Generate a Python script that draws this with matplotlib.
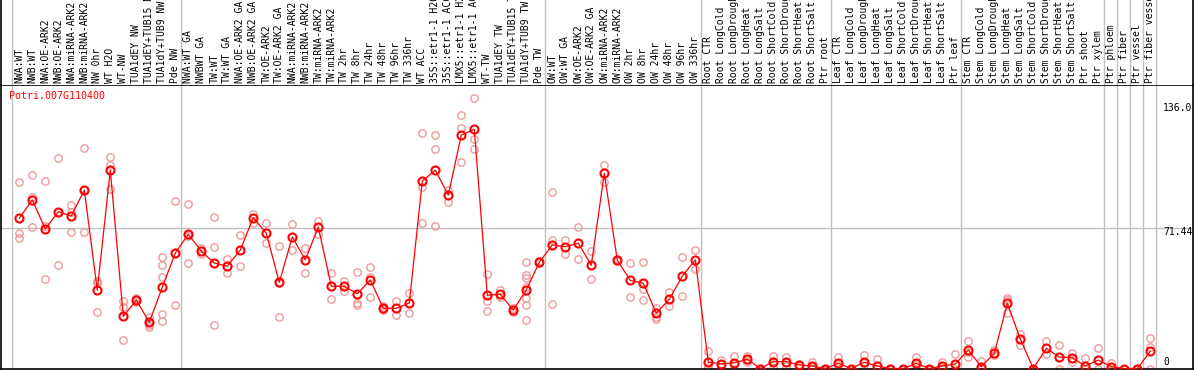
import numpy as np
import matplotlib
matplotlib.use('Agg')
from matplotlib import pyplot as plt


gene = 'Potri.007G110400'

samples = ['NWA:WT', 'NWB:WT', 'NWA:OE-ARK2', 'NWB:OE-ARK2', 'NWA:miRNA-ARK2', 'NWB:miRNA-ARK2',
           'NW 0hr', 'WT H2O', 'WT-NW', 'TUA1dEY NW', 'TUA1dEY+TUB15 NW', 'TUA1dY+TUB9 NW', 'Pde NW',
           'NWA:WT GA', 'NWBWT GA', 'TW:WT', 'TW:WT GA', 'NWA:OE-ARK2 GA', 'NWB:OE-ARK2 GA',
           'TW:OE-ARK2', 'TW:OE-ARK2 GA', 'NWA:miRNA-ARK2', 'NWB:miRNA-ARK2', 'TW:miRNA-ARK2',
           'TW:miRNA-ARK2', 'TW 2hr', 'TW 8hr', 'TW 24hr', 'TW 48hr', 'TW 96hr', 'TW 336hr', 'WT ACC',
           '35S::etr1-1 H2O', '35S::etr1-1 ACC', 'LMX5::etr1-1 H2O', 'LMX5::etr1-1 ACC', 'WT-TW',
           'TUA1dEY TW', 'TUA1dEY+TUB15 TW', 'TUA1dY+TUB9 TW', 'Pde TW',
           'OW:WT', 'OW:WT GA', 'OW:OE-ARK2', 'OW:OE-ARK2 GA', 'OW:miRNA-ARK2', 'OW:miRNA-ARK2',
           'OW 2hr', 'OW 8hr', 'OW 24hr', 'OW 48hr', 'OW 96hr', 'OW 336hr',
           'Root CTR', 'Root LongCold', 'Root LongDrought', 'Root LongHeat', 'Root LongSalt',
           'Root ShortCold', 'Root ShortDrought', 'Root ShortHeat', 'Root ShortSalt', 'Ptr root',
           'Leaf CTR', 'Leaf LongCold', 'Leaf LongDrought', 'Leaf LongHeat', 'Leaf LongSalt',
           'Leaf ShortCold', 'Leaf ShortDrought', 'Leaf ShortHeat', 'Leaf ShortSalt', 'Ptr leaf',
           'Stem CTR', 'Stem LongCold', 'Stem LongDrought', 'Stem LongHeat', 'Stem LongSalt',
           'Stem ShortCold', 'Stem ShortDrought', 'Stem ShortHeat', 'Stem ShortSalt', 'Ptr shoot',
           'Ptr xylem', 'Ptr phloem', 'Ptr fiber', 'Ptr vessel', 'Ptr fiber vessel']

# first sample of each block (separator lines drawn before them), last entry = end
group_starts = [0, 13, 41, 53, 63, 73, 84, 85, 86, 87, 88]

means = [76.4, 85.7, 70.9, 79.7, 77.5, 90.7, 39.8, 100.8, 26.5, 34.8,
         23.5, 41.3, 58.7, 68.2, 59.6, 53.6, 52.0, 60.2, 76.7, 68.7,
         43.8, 66.9, 55.2, 71.9, 41.8, 41.8, 38.0, 45.0, 30.6, 30.6,
         33.3, 95.3, 100.8, 88.2, 118.6, 121.6, 37.2, 37.7, 29.7, 39.9,
         54.0, 62.8, 61.9, 63.7, 52.5, 99.2, 55.0, 44.8, 43.3, 28.1,
         35.2, 47.0, 55.2, 3.2, 2.4, 2.9, 4.7, 0.0, 3.5, 3.5,
         1.8, 1.3, 0.0, 2.6, 0.0, 3.2, 1.3, 0.0, 0.0, 2.6,
         0.0, 1.3, 2.3, 9.4, 0.9, 7.7, 33.1, 15.0, 0.0, 10.3,
         5.8, 5.5, 1.3, 4.3, 0.9, 0.0, 0.0, 8.7]

replicates = [[94.7, 68.7, 66.2], [98.2, 87.3, 71.8], [95.3, 72.4, 45.3], [106.9, 79.7, 52.5],
              [83.1, 79.7, 69.2], [111.9, 90.7, 69.5], [44.5, 43.3, 28.7], [107.4, 103.5, 91.1],
              [34.3, 31.1, 14.5], [35.6, 34.8, 34.0], [26.3, 22.1, 21.1],
              [56.8, 52.5, 46.5, 27.7, 24.0], [85.2, 58.6, 32.3],
              [83.5, 67.5, 53.6], [61.0, 58.2], [77.0, 61.8, 22.0], [55.7, 48.6], [67.9, 52.0],
              [78.4, 74.1], [73.8, 63.7], [62.1, 43.3, 26.0], [73.3, 60.1], [61.3, 48.6],
              [75.0, 68.2], [48.6, 35.2], [44.6, 39.6], [49.1, 33.1, 32.3], [51.8, 46.7, 36.2],
              [31.8, 30.4, 29.6], [34.3, 27.0], [38.4, 28.1], [119.6, 92.4, 73.8],
              [118.7, 111.4, 72.3], [90.7, 84.8], [128.9, 122.1, 105.0], [137.4, 116.5, 111.4],
              [48.0, 34.5, 29.2], [39.9, 36.5], [30.6, 28.9],
              [54.3, 47.5, 45.9, 41.4, 35.8, 32.3, 24.7], [54.5, 53.5],
              [89.6, 65.3, 32.6], [65.3, 58.4], [71.8, 55.5], [59.6, 45.3], [103.5, 95.0],
              [55.5, 54.5], [53.6, 36.2], [54.0, 40.6, 34.7], [30.6, 26.3, 25.3], [38.9, 31.6],
              [56.5, 36.9], [60.2, 50.4],
              [8.9, 0.6, 0.0], [4.2, 2.3, 0.8], [6.4, 2.3, 0.0], [6.4, 4.5, 3.3], [0.0, 0.0],
              [6.4, 3.8, 0.3], [6.0, 3.2, 1.3], [2.5, 1.9, 1.0], [3.2, 0.7, 0.0], [0.0, 0.0],
              [6.0, 1.8, 0.0], [0.0, 0.0], [6.9, 2.7, 0.0], [5.0, 0.0], [0.0, 0.0],
              [0.0, 0.0], [5.8, 2.0, 0.0], [0.0, 0.0], [3.3, 0.6, 0.0], [7.2, 0.0],
              [14.0, 8.2, 6.0], [3.8, 0.0], [9.4, 6.9], [36.0, 34.8, 28.4], [17.4, 11.9],
              [0.0, 0.0], [14.1, 7.2], [11.8, 0.0], [7.7, 3.2], [5.2, 0.0], [10.3, 0.0],
              [2.9, 0.0], [0.0, 0.0], [0.0, 0.0], [15.4, 11.1, 0.0]]

y_max = 136.0
y_mid = 71.44

W, H = 1194, 370
mono = 'DejaVu Sans Mono'
red = '#ff0000'
pink = '#ee9a9a'
grey = '#c0c0c0'

fig = plt.figure(figsize=(W / 100., H / 100.), dpi=100)

# pixel layout of the image
left_px, right_px = 1, 1192.5
top_px, bottom_px = 85, 369
x0_px, step_px = 19.3, 13.0
xlim = ((left_px - x0_px) / step_px, (right_px - x0_px) / step_px)

ax = fig.add_axes([left_px / W, (H - bottom_px) / H, (right_px - left_px) / W, (bottom_px - top_px) / H])
hax = fig.add_axes([left_px / W, (H - top_px) / H, (right_px - left_px) / W, top_px / H])

x = np.arange(len(samples))

# replicates first, then the mean line on top
for i, reps in enumerate(replicates):
    ax.plot([x[i]] * len(reps), reps, linestyle='none', marker='o', markersize=5.3,
            markerfacecolor='none', markeredgecolor=pink, markeredgewidth=1.0, zorder=2)
ax.plot(x, means, color=red, linewidth=0.9, marker='o', markersize=5.8,
        markerfacecolor='none', markeredgecolor=red, markeredgewidth=1.5, zorder=3)

ax.set_xlim(*xlim)
ax.set_ylim(-0.25, 144.1)
ax.axhline(y_mid, color=grey, linewidth=1, zorder=1)
for a in (ax, hax):
    for g in group_starts:
        a.axvline(g - 0.6, color=grey, linewidth=1, zorder=1)
    a.set_xticks([])
    a.set_yticks([])
    for s in a.spines.values():
        s.set_color('black')
        s.set_linewidth(1.2)
hax.set_xlim(*xlim)
hax.set_ylim(0, 1)
hax.spines['top'].set_visible(False)
hax.spines['bottom'].set_visible(False)

for i, name in enumerate(samples):
    hax.text(x[i], 2. / top_px, name, rotation=90, ha='center', va='bottom',
             family=mono, fontsize=7, color='black')

ax.text(8. / W, 0.961, gene, transform=ax.transAxes, ha='left', va='center',
        family=mono, fontsize=7.2, color=red)

ytr = ax.get_yaxis_transform()
lab_x = (1163 - left_px) / (right_px - left_px)
ax.text(lab_x, y_max - 1, '%.1f' % y_max, transform=ytr, ha='left', va='top',
        family=mono, fontsize=7, clip_on=False)
ax.text(lab_x, y_mid + 0.5, '%.2f' % y_mid, transform=ytr, ha='left', va='top',
        family=mono, fontsize=7, clip_on=False)
ax.text(lab_x, 1.0, '0', transform=ytr, ha='left', va='bottom',
        family=mono, fontsize=7, clip_on=False)

fig.savefig('out.png', dpi=100)
